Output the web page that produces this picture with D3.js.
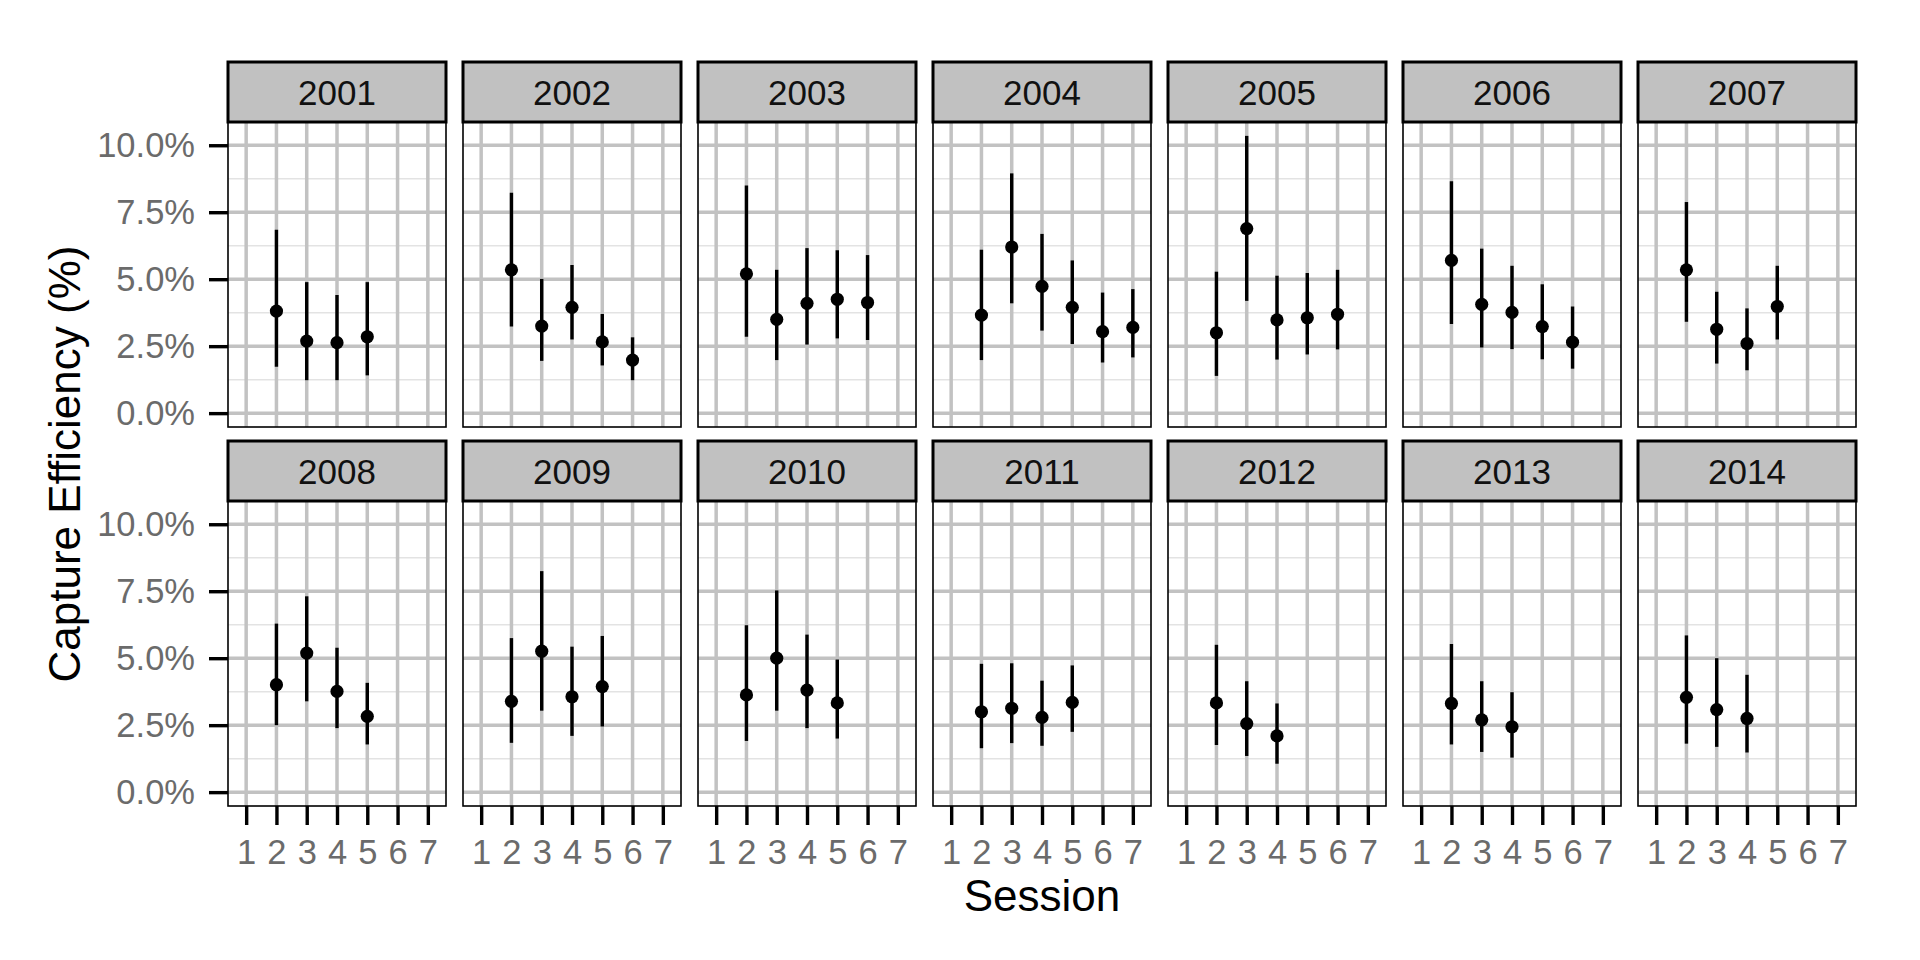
<!DOCTYPE html>
<html>
<head>
<meta charset="utf-8">
<script src="https://cdn.jsdelivr.net/npm/d3@7"></script>
<style>
  body { margin: 0; background: #fff; }
  text { font-family: "Liberation Sans", Arial, Helvetica, sans-serif; }
</style>
</head>
<body>
<svg id="chart" width="1920" height="960"></svg>
<script>
// capture efficiency per year, by session (percent)
const years = [2001, 2002, 2003, 2004, 2005, 2006, 2007, 2008, 2009, 2010, 2011, 2012, 2013, 2014];
const sessions = [
  [2, 3, 4, 5], [2, 3, 4, 5, 6], [2, 3, 4, 5, 6], [2, 3, 4, 5, 6, 7], [2, 3, 4, 5, 6],
  [2, 3, 4, 5, 6], [2, 3, 4, 5], [2, 3, 4, 5], [2, 3, 4, 5], [2, 3, 4, 5],
  [2, 3, 4, 5], [2, 3, 4], [2, 3, 4], [2, 3, 4]
];
const estimate = [
  [3.81, 2.69, 2.63, 2.85], [5.35, 3.25, 3.95, 2.66, 1.98], [5.2, 3.5, 4.1, 4.25, 4.13],
  [3.66, 6.2, 4.73, 3.95, 3.04, 3.2], [3.0, 6.89, 3.48, 3.56, 3.69], [5.7, 4.06, 3.76, 3.23, 2.65],
  [5.35, 3.13, 2.6, 3.98], [4.01, 5.19, 3.76, 2.83], [3.39, 5.26, 3.56, 3.94],
  [3.63, 5.0, 3.81, 3.33], [3.0, 3.13, 2.79, 3.35], [3.33, 2.56, 2.1],
  [3.31, 2.7, 2.44], [3.54, 3.08, 2.75]
];
const lower = [
  [1.73, 1.23, 1.23, 1.41], [3.23, 1.95, 2.75, 1.78, 1.23], [2.85, 1.98, 2.56, 2.79, 2.73],
  [1.98, 4.1, 3.08, 2.58, 1.89, 2.08], [1.39, 4.19, 2.0, 2.19, 2.38], [3.33, 2.45, 2.39, 2.01, 1.66],
  [3.41, 1.85, 1.6, 2.75], [2.5, 3.39, 2.39, 1.78], [1.84, 3.04, 2.1, 2.45],
  [1.91, 3.04, 2.39, 2.0], [1.64, 1.83, 1.73, 2.25], [1.76, 1.35, 1.06],
  [1.78, 1.5, 1.29], [1.81, 1.69, 1.48]
];
const upper = [
  [6.85, 4.89, 4.41, 4.89], [8.23, 5.01, 5.53, 3.7, 2.83], [8.5, 5.35, 6.16, 6.08, 5.9],
  [6.1, 8.95, 6.69, 5.7, 4.5, 4.63], [5.28, 10.35, 5.13, 5.23, 5.35], [8.66, 6.14, 5.5, 4.81, 3.98],
  [7.88, 4.53, 3.91, 5.5], [6.29, 7.31, 5.39, 4.08], [5.75, 8.25, 5.43, 5.83],
  [6.23, 7.53, 5.88, 4.95], [4.79, 4.81, 4.16, 4.73], [5.5, 4.14, 3.31],
  [5.53, 4.14, 3.73], [5.85, 5.0, 4.38]
];
const xTicks = [1, 2, 3, 4, 5, 6, 7];
const yTicks = [0, 2.5, 5, 7.5, 10];
const yMinor = [1.25, 3.75, 6.25, 8.75];

const svg = d3.select("#chart");

const ncol = 7;
const panelW = 218, panelH = 305, stripH = 60;
const panelLeft = 228, colStep = 235;
const panelTops = [122, 501];

// shared scales (ggplot-ish expansion)
const xScale = d3.scaleLinear().domain([0.4, 7.6]).range([0, panelW]);
const yHi = d3.max(upper.flat()), yLo = Math.min(0, d3.min(lower.flat()));
const yPad = (yHi - yLo) * 0.05;
const yScale = d3.scaleLinear().domain([yLo - yPad, yHi + yPad]).range([panelH, 0]);

years.forEach((yr, i) => {
  const col = i % ncol, row = Math.floor(i / ncol);
  const g = svg.append("g")
    .attr("transform", `translate(${panelLeft + col * colStep}, ${panelTops[row]})`);

  g.append("rect").attr("width", panelW).attr("height", panelH).attr("fill", "#fff");

  // minor grid
  g.selectAll(".minor").data(yMinor).enter().append("line")
    .attr("x1", 0).attr("x2", panelW)
    .attr("y1", d => yScale(d)).attr("y2", d => yScale(d))
    .attr("stroke", "#e3e3e3").attr("stroke-width", 1.5);

  // major grid
  g.selectAll(".hmajor").data(yTicks).enter().append("line")
    .attr("x1", 0).attr("x2", panelW)
    .attr("y1", d => yScale(d)).attr("y2", d => yScale(d))
    .attr("stroke", "#c2c2c2").attr("stroke-width", 3.5);
  g.selectAll(".vmajor").data(xTicks).enter().append("line")
    .attr("y1", 0).attr("y2", panelH)
    .attr("x1", d => xScale(d)).attr("x2", d => xScale(d))
    .attr("stroke", "#c2c2c2").attr("stroke-width", 3.5);

  const pts = sessions[i].map((s, j) => ({ s: s, est: estimate[i][j], lo: lower[i][j], hi: upper[i][j] }));

  // error bars
  g.selectAll(".bar").data(pts).enter().append("line")
    .attr("x1", d => xScale(d.s)).attr("x2", d => xScale(d.s))
    .attr("y1", d => yScale(d.lo)).attr("y2", d => yScale(d.hi))
    .attr("stroke", "#000").attr("stroke-width", 3.4);

  g.selectAll(".pt").data(pts).enter().append("circle")
    .attr("cx", d => xScale(d.s)).attr("cy", d => yScale(d.est))
    .attr("r", 6.6).attr("fill", "#000");

  // panel border
  g.append("rect").attr("width", panelW).attr("height", panelH)
    .attr("fill", "none").attr("stroke", "#000").attr("stroke-width", 1.6);

  // strip
  g.append("rect").attr("x", 0).attr("y", -stripH).attr("width", panelW).attr("height", stripH)
    .attr("fill", "#c1c1c1").attr("stroke", "#000").attr("stroke-width", 3);
  g.append("text").attr("x", panelW / 2).attr("y", -stripH / 2).attr("dy", "0.36em")
    .attr("text-anchor", "middle").attr("font-size", 35).attr("fill", "#111")
    .text(yr);

  if (col === 0) {
    const ya = g.append("g").call(
      d3.axisLeft(yScale).tickValues(yTicks).tickFormat(d => d.toFixed(1) + "%")
        .tickSize(19).tickPadding(14));
    ya.select(".domain").remove();
    ya.selectAll("line").attr("stroke", "#000").attr("stroke-width", 3.4);
    ya.selectAll("text").attr("font-size", 34.5).attr("fill", "#6b6b6b")
      .attr("font-family", "Liberation Sans, Arial, sans-serif");
  }
  if (row === 1) {
    const xa = g.append("g").attr("transform", `translate(0, ${panelH})`).call(
      d3.axisBottom(xScale).tickValues(xTicks).tickFormat(d3.format("d"))
        .tickSize(19).tickPadding(15));
    xa.select(".domain").remove();
    xa.selectAll("line").attr("stroke", "#000").attr("stroke-width", 3.4);
    xa.selectAll("text").attr("font-size", 34.5).attr("fill", "#6b6b6b")
      .attr("font-family", "Liberation Sans, Arial, sans-serif");
  }
});

// axis titles
svg.append("text")
  .attr("x", panelLeft + (6 * colStep + panelW) / 2).attr("y", 911)
  .attr("text-anchor", "middle").attr("font-size", 44).attr("fill", "#000")
  .text("Session");

svg.append("text")
  .attr("transform", `translate(80, ${(panelTops[0] + panelTops[1] + panelH) / 2}) rotate(-90)`)
  .attr("text-anchor", "middle").attr("font-size", 44).attr("fill", "#000")
  .text("Capture Efficiency (%)");
</script>
</body>
</html>
